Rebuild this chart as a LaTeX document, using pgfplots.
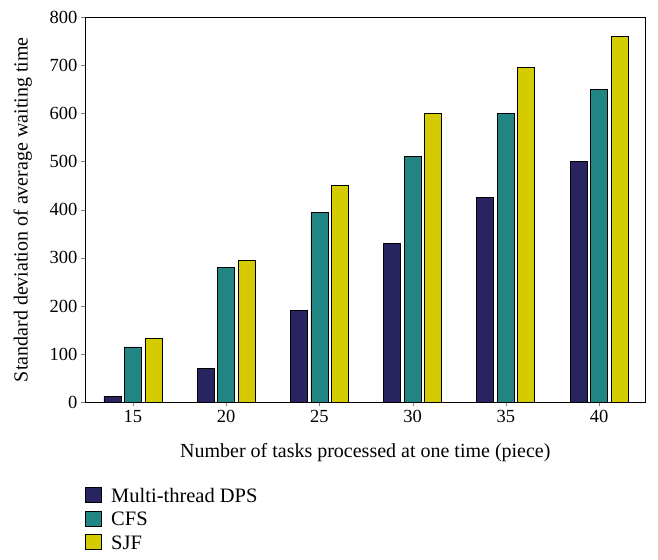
\documentclass[border=0pt]{standalone}
\usepackage{fontspec}
\setmainfont{Liberation Serif}
\usepackage{pgfplots}
\pgfplotsset{compat=1.18}
\definecolor{cdps}{HTML}{27245F}
\definecolor{ccfs}{HTML}{218683}
\definecolor{csjf}{HTML}{D4CC00}
\begin{document}
\begin{tikzpicture}
\begin{axis}[
  name=ax,
  scale only axis, width=561pt, height=385.5pt,
  ybar=3.5pt, bar width=17pt,
  xmin=-0.515, xmax=5.5, ymin=0, ymax=800,
  xtick={0,1,2,3,4,5}, xticklabels={15,20,25,30,35,40},
  ytick={0,100,...,800},
  tick align=outside, xtick pos=bottom, ytick pos=left,
  major tick length=4pt,
  axis line style={line width=0.8pt},
  /pgf/number format/assume math mode=true,
  tick label style={font=\fontsize{18.5}{20}\selectfont},
  label style={font=\fontsize{20}{22}\selectfont},
  xlabel={Number of tasks processed at one time (piece)},
  ylabel={Standard deviation of average waiting time},
  xlabel style={yshift=-14pt},
  ylabel style={yshift=11pt},
  legend style={draw=none, fill=none, at={(rel axis cs:0,-0.219)}, anchor=north west,
    font=\fontsize{20.5}{22}\selectfont, row sep=4pt, inner sep=0pt, outer sep=0pt},
  legend cell align=left,
  legend image code/.code={\draw[#1, draw=black, line width=0.6pt] (0pt,-6pt) rectangle (16pt,9pt);
    \path[draw=none,fill=none] (0pt,0pt) -- (24pt,0pt);},
  every axis plot/.append style={draw=black, line width=0.8pt},
]
\addplot[fill=cdps] coordinates {(0,12) (1,70) (2,190) (3,330) (4,425) (5,500)};
\addplot[fill=ccfs] coordinates {(0,115) (1,280) (2,395) (3,510) (4,600) (5,650)};
\addplot[fill=csjf] coordinates {(0,132) (1,295) (2,450) (3,600) (4,695) (5,760)};
\legend{Multi-thread DPS, CFS, SJF}
\end{axis}
\pgfresetboundingbox
\useasboundingbox ([shift={(-85pt,-157.3pt)}]ax.south west) rectangle ([shift={(12.3pt,17pt)}]ax.north east);
\end{tikzpicture}
\end{document}
